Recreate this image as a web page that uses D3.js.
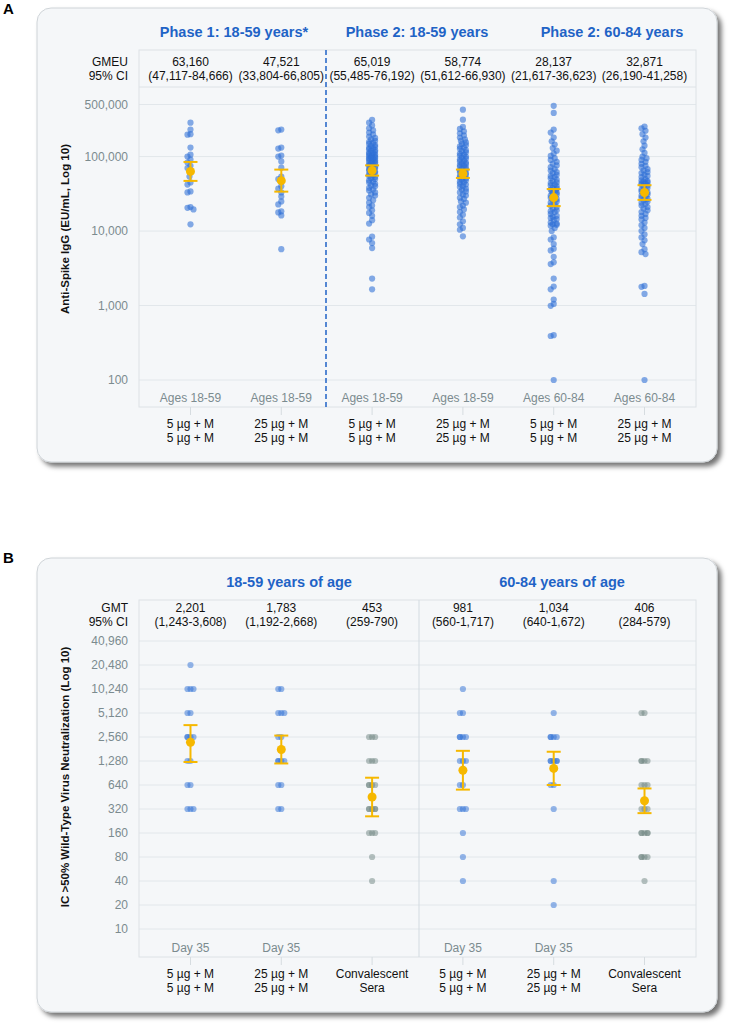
<!DOCTYPE html>
<html>
<head>
<meta charset="utf-8">
<script src="https://cdn.jsdelivr.net/npm/d3@7"></script>
<style>
body { margin: 0; background: #fff; }
text { font-family: Arial, "Liberation Sans", sans-serif; }
</style>
</head>
<body>
<div id="chart"></div>
<script>
// ---------- data: panel A ----------
var catLinesA = [["5 µg + M", "5 µg + M"], ["25 µg + M", "25 µg + M"], ["5 µg + M", "5 µg + M"],
                 ["25 µg + M", "25 µg + M"], ["5 µg + M", "5 µg + M"], ["25 µg + M", "25 µg + M"]];
var agesA = ["Ages 18-59", "Ages 18-59", "Ages 18-59", "Ages 18-59", "Ages 60-84", "Ages 60-84"];
var phaseTitles = ["Phase 1: 18-59 years*", "Phase 2: 18-59 years", "Phase 2: 60-84 years"];
var gmeuText = ["63,160", "47,521", "65,019", "58,774", "28,137", "32,871"];
var ciTextA = ["(47,117-84,666)", "(33,804-66,805)", "(55,485-76,192)", "(51,612-66,930)", "(21,617-36,623)", "(26,190-41,258)"];
var gmeu = [63160, 47521, 65019, 58774, 28137, 32871];
var gmeuLo = [47117, 33804, 55485, 51612, 21617, 26190];
var gmeuHi = [84666, 66805, 76192, 66930, 36623, 41258];
var ticksA = [100, 1000, 10000, 100000, 500000];

// individual results, thousands EU/mL
var dotsA1 = [285, 230, 200, 197, 132, 106, 100, 91, 83, 75, 70, 61, 54, 45, 42, 34, 33, 21, 20.5, 19.5, 12.3];
var dotsA2 = [230, 225, 132, 128, 103, 100, 86, 71, 54, 50, 46, 40, 37, 33, 29, 25, 22.8, 18.4, 17.8, 16.2, 5.7];
var dotsA3 = [310, 285, 262, 240, 225, 210, 198, 186, 178, 170, 163, 158, 152, 148, 143, 139, 135, 131, 128, 125,
              122, 119, 116, 113, 111, 108, 106, 104, 102, 100, 98, 96, 95, 93, 91, 89, 87, 85, 84, 82,
              80, 78, 77, 75, 73, 71, 70, 68, 66, 65, 63, 61, 60, 58, 56, 55, 53, 51, 50, 48,
              46, 45, 43, 41, 40, 38, 36, 35, 33, 31, 30, 28, 26, 24, 22, 21, 19, 17.5, 16, 14,
              12.6, 8.4, 7.7, 6.9, 5.9, 2.3, 1.65];
var dotsA4 = [426, 313, 250, 235, 218, 205, 192, 180, 170, 162, 155, 148, 142, 137, 132, 127, 122, 118, 114, 110,
              106, 103, 100, 97, 94, 91, 88, 86, 83, 81, 79, 77, 75, 73, 71, 69, 67, 65, 63, 62,
              60, 58, 57, 55, 54, 52, 51, 49, 48, 46, 45, 43, 42, 40, 39, 37, 36, 34, 33, 31,
              30, 28, 27, 25, 24, 22, 21, 19.5, 18, 16.5, 15.2, 13.5, 12.3, 11, 10.4, 8.5];
var dotsA5 = [480, 385, 230, 210, 180, 160, 145, 130, 120, 110, 102, 95, 90, 85, 80, 76, 72, 68, 65, 62,
              60, 57, 55, 53, 51, 49, 47, 45, 44, 42, 41, 40, 38, 37, 36, 35, 34, 33, 32, 31,
              30, 29, 28, 27, 26, 25, 24, 23, 22, 21, 20, 19, 18.5, 18, 17, 16, 15.5, 15, 14.5, 14,
              13, 12.6, 12.3, 12.1, 11.8, 11, 10, 8.2, 7.7, 6.7, 5.8, 5.5, 4.5, 3.8, 3.6, 2.3, 1.8, 1.65,
              1.2, 1.05, 0.99, 0.40, 0.39, 0.10];
var dotsA6 = [253, 240, 222, 200, 180, 160, 140, 125, 112, 100, 95, 90, 85, 80, 75, 72, 68, 65, 62, 60,
              57, 55, 53, 50, 48, 47, 46, 45, 44, 43, 42, 41, 40, 38, 36, 35, 34, 33, 32, 31,
              30, 29, 28, 27, 26, 25, 24, 23, 22, 21, 20, 19, 18, 17, 16, 15, 14.3, 13, 12, 11,
              10, 9, 8.2, 7.5, 6.7, 5.7, 5.2, 4.9, 1.83, 1.78, 1.43, 0.10];

// ---------- data: panel B ----------
var catLinesB = [["5 µg + M", "5 µg + M"], ["25 µg + M", "25 µg + M"], ["Convalescent", "Sera"],
                 ["5 µg + M", "5 µg + M"], ["25 µg + M", "25 µg + M"], ["Convalescent", "Sera"]];
var dayB = ["Day 35", "Day 35", "", "Day 35", "Day 35", ""];
var ageTitles = ["18-59 years of age", "60-84 years of age"];
var gmtText = ["2,201", "1,783", "453", "981", "1,034", "406"];
var ciTextB = ["(1,243-3,608)", "(1,192-2,668)", "(259-790)", "(560-1,717)", "(640-1,672)", "(284-579)"];
var gmt = [2201, 1783, 453, 981, 1034, 406];
var gmtLo = [1243, 1192, 259, 560, 640, 284];
var gmtHi = [3608, 2668, 790, 1717, 1672, 579];
var isSera = [false, false, true, false, false, true];
var ticksB = [10, 20, 40, 80, 160, 320, 640, 1280, 2560, 5120, 10240, 20480, 40960];

var dotsB1 = [20480, 10240, 10240, 10240, 5120, 5120, 2560, 2560, 2560, 2560, 1280, 1280, 640, 640, 320, 320, 320];
var dotsB2 = [10240, 10240, 5120, 5120, 5120, 2560, 2560, 1280, 1280, 1280, 1280, 640, 640, 320, 320];
var dotsB3 = [2560, 2560, 2560, 1280, 1280, 1280, 640, 640, 640, 640, 320, 320, 320, 320, 320, 160, 160, 160, 80, 40];
var dotsB4 = [10240, 5120, 5120, 2560, 2560, 2560, 2560, 1280, 1280, 1280, 640, 640, 320, 320, 320, 160, 80, 40];
var dotsB5 = [5120, 2560, 2560, 2560, 2560, 1280, 1280, 1280, 1280, 1280, 640, 640, 320, 40, 20];
var dotsB6 = [5120, 5120, 1280, 1280, 1280, 1280, 640, 640, 640, 320, 320, 320, 160, 160, 160, 160, 160, 80, 80, 80, 80, 40];

var W = 735, H = 1029;
var blue = "#1f63c6", gold = "#f6b800", greyText = "#7b8b8f", grid = "#e2e7eb";

var svg = d3.select("#chart").append("svg")
  .attr("width", W).attr("height", H);

var defs = svg.append("defs");
var f = defs.append("filter").attr("id", "shadow")
  .attr("x", "-5%").attr("y", "-5%").attr("width", "115%").attr("height", "115%");
f.append("feDropShadow").attr("dx", 4).attr("dy", 4).attr("stdDeviation", 2.5)
  .attr("flood-color", "#000").attr("flood-opacity", 0.55);

// shared x scale
var x = d3.scalePoint().domain(d3.range(6)).range([139, 696]).padding(0.567);

// simple deterministic swarm: horizontal offsets so dots overlap less
function swarm(vals, yf, minDist, maxOff, step) {
  var placed = [];
  var items = vals.map(function (v) { return { v: v, y: yf(v) }; })
    .sort(function (a, b) { return a.y - b.y; });
  var cands = [0];
  for (var k = step; k <= maxOff + 0.01; k += step) { cands.push(-k); cands.push(k); }
  items.forEach(function (d) {
    var best = 0, bestScore = Infinity;
    cands.forEach(function (c) {
      var s = Math.abs(c) * 0.02;
      placed.forEach(function (p) {
        var dx = p.dx - c, dy = p.y - d.y;
        var dist = Math.sqrt(dx * dx + dy * dy);
        if (dist < minDist) s += minDist - dist;
      });
      if (s < bestScore) { bestScore = s; best = c; }
    });
    d.dx = best;
    placed.push(d);
  });
  return items;
}

function card(top, bottom) {
  svg.append("rect")
    .attr("x", 37).attr("y", top).attr("width", 680).attr("height", bottom - top)
    .attr("rx", 14).attr("ry", 14)
    .attr("fill", "#f5f7f9").attr("stroke", "#cfd4d8").attr("stroke-width", 1)
    .attr("filter", "url(#shadow)");
}

function errorBars(g, y, mid, lo, hi) {
  var eb = g.append("g").selectAll("g").data(mid).enter().append("g");
  eb.append("line")
    .attr("x1", function (d, i) { return x(i); }).attr("x2", function (d, i) { return x(i); })
    .attr("y1", function (d, i) { return y(lo[i]); }).attr("y2", function (d, i) { return y(hi[i]); })
    .attr("stroke", gold).attr("stroke-width", 2);
  [lo, hi].forEach(function (arr) {
    eb.append("line")
      .attr("x1", function (d, i) { return x(i) - 7; }).attr("x2", function (d, i) { return x(i) + 7; })
      .attr("y1", function (d, i) { return y(arr[i]); }).attr("y2", function (d, i) { return y(arr[i]); })
      .attr("stroke", gold).attr("stroke-width", 2);
  });
  eb.append("circle")
    .attr("cx", function (d, i) { return x(i); })
    .attr("cy", function (d) { return y(d); })
    .attr("r", 4.5).attr("fill", gold);
}

function catLabels(g, lines, yTop) {
  g.selectAll(".tk").data(lines).enter().append("line")
    .attr("x1", function (d, i) { return x(i); }).attr("x2", function (d, i) { return x(i); })
    .attr("y1", yTop).attr("y2", yTop + 8).attr("stroke", "#d6dce0");
  var t = g.selectAll(".cat").data(lines).enter().append("text")
    .attr("text-anchor", "middle").attr("font-size", 12).attr("fill", "#111");
  t.append("tspan").attr("x", function (d, i) { return x(i); }).attr("y", yTop + 21)
    .text(function (d) { return d[0]; });
  t.append("tspan").attr("x", function (d, i) { return x(i); }).attr("y", yTop + 35)
    .text(function (d) { return d[1]; });
}

function headerRow(g, label1, label2, vals, cis, yTop) {
  g.append("text").attr("x", 128).attr("y", yTop + 16).attr("text-anchor", "end")
    .attr("font-size", 12).attr("fill", "#111").text(label1);
  g.append("text").attr("x", 128).attr("y", yTop + 30).attr("text-anchor", "end")
    .attr("font-size", 12).attr("fill", "#111").text(label2);
  g.selectAll(".hv").data(vals).enter().append("text")
    .attr("x", function (d, i) { return x(i); }).attr("y", yTop + 16)
    .attr("text-anchor", "middle").attr("font-size", 12).attr("fill", "#111")
    .text(function (d) { return d; });
  g.selectAll(".hc").data(cis).enter().append("text")
    .attr("x", function (d, i) { return x(i); }).attr("y", yTop + 30)
    .attr("text-anchor", "middle").attr("font-size", 12).attr("fill", "#111")
    .text(function (d) { return d; });
}

// =============== PANEL A ===============
card(8, 462);
svg.append("text").attr("x", 3).attr("y", 14).attr("font-size", 15).attr("font-weight", "bold").text("A");

var gA = svg.append("g");
var yA = d3.scaleLog().domain([100, 500000]).range([380, 104.5]);

// gridlines
gA.selectAll(".grid").data(ticksA).enter().append("line")
  .attr("x1", 139).attr("x2", 696)
  .attr("y1", function (d) { return yA(d); }).attr("y2", function (d) { return yA(d); })
  .attr("stroke", grid);
// frame + table
gA.append("rect").attr("x", 139).attr("y", 50).attr("width", 557).attr("height", 357)
  .attr("fill", "none").attr("stroke", "#dde2e6");
gA.append("line").attr("x1", 139).attr("x2", 696).attr("y1", 87).attr("y2", 87).attr("stroke", "#dde2e6");

// dashed phase divider
gA.append("line").attr("x1", 326).attr("x2", 326).attr("y1", 50).attr("y2", 407)
  .attr("stroke", blue).attr("stroke-width", 1.5).attr("stroke-dasharray", "5,3");

// y axis tick labels
var axA = d3.axisLeft(yA).tickValues(ticksA).tickFormat(d3.format(",")).tickSize(0).tickPadding(0);
gA.append("g").attr("transform", "translate(128,0)").call(axA)
  .call(function (g) { g.select(".domain").remove(); })
  .selectAll("text").attr("font-size", 12).attr("fill", greyText)
  .attr("font-family", "Arial, 'Liberation Sans', sans-serif");

gA.append("text")
  .attr("transform", "translate(69,229) rotate(-90)")
  .attr("text-anchor", "middle").attr("font-size", 11.5).attr("font-weight", "bold").attr("fill", "#111")
  .text("Anti-Spike IgG (EU/mL, Log 10)");

// dots
var colsA = [dotsA1, dotsA2, dotsA3, dotsA4, dotsA5, dotsA6];
colsA.forEach(function (arr, ci) {
  var pts = swarm(arr.map(function (v) { return v * 1000; }), yA, 4, 3, 1);
  gA.append("g").selectAll("circle").data(pts).enter().append("circle")
    .attr("cx", function (d) { return x(ci) + d.dx; })
    .attr("cy", function (d) { return d.y; })
    .attr("r", 3.1)
    .attr("fill", "#2d6fd6").attr("fill-opacity", 0.58);
});

errorBars(gA, yA, gmeu, gmeuLo, gmeuHi);

// titles
var phaseX = [234, 417, 612];
gA.selectAll(".ph").data(phaseTitles).enter().append("text")
  .attr("x", function (d, i) { return phaseX[i]; }).attr("y", 37)
  .attr("text-anchor", "middle").attr("font-size", 14.5).attr("font-weight", "bold").attr("fill", blue)
  .text(function (d) { return d; });

headerRow(gA, "GMEU", "95% CI", gmeuText, ciTextA, 50);

gA.selectAll(".ages").data(agesA).enter().append("text")
  .attr("x", function (d, i) { return x(i); }).attr("y", 402)
  .attr("text-anchor", "middle").attr("font-size", 12).attr("fill", greyText)
  .text(function (d) { return d; });

catLabels(gA, catLinesA, 407);

// =============== PANEL B ===============
card(558, 1012);
svg.append("text").attr("x", 3).attr("y", 563).attr("font-size", 15).attr("font-weight", "bold").text("B");

var gB = svg.append("g");
var yB = d3.scaleLog().base(2).domain([10, 40960]).range([929, 641]);

gB.selectAll(".grid").data(ticksB).enter().append("line")
  .attr("x1", 139).attr("x2", 696)
  .attr("y1", function (d) { return yB(d); }).attr("y2", function (d) { return yB(d); })
  .attr("stroke", grid);
gB.append("rect").attr("x", 139).attr("y", 600).attr("width", 557).attr("height", 357)
  .attr("fill", "none").attr("stroke", "#dde2e6");
gB.append("line").attr("x1", 419).attr("x2", 419).attr("y1", 600).attr("y2", 957)
  .attr("stroke", "#d3dbe1");

var axB = d3.axisLeft(yB).tickValues(ticksB).tickFormat(d3.format(",")).tickSize(0).tickPadding(0);
gB.append("g").attr("transform", "translate(128,0)").call(axB)
  .call(function (g) { g.select(".domain").remove(); })
  .selectAll("text").attr("font-size", 12).attr("fill", greyText)
  .attr("font-family", "Arial, 'Liberation Sans', sans-serif");

gB.append("text")
  .attr("transform", "translate(69,777) rotate(-90)")
  .attr("text-anchor", "middle").attr("font-size", 11.5).attr("font-weight", "bold").attr("fill", "#111")
  .text("IC >50% Wild-Type Virus Neutralization (Log 10)");

var colsB = [dotsB1, dotsB2, dotsB3, dotsB4, dotsB5, dotsB6];
colsB.forEach(function (arr, ci) {
  var pts = swarm(arr, yB, 5, 3, 1.5);
  gB.append("g").selectAll("circle").data(pts).enter().append("circle")
    .attr("cx", function (d) { return x(ci) + d.dx; })
    .attr("cy", function (d) { return d.y; })
    .attr("r", 3.1)
    .attr("fill", isSera[ci] ? "#6f8581" : "#2d6fd6").attr("fill-opacity", 0.5);
});

errorBars(gB, yB, gmt, gmtLo, gmtHi);

var ageX = [289, 562];
gB.selectAll(".at").data(ageTitles).enter().append("text")
  .attr("x", function (d, i) { return ageX[i]; }).attr("y", 587)
  .attr("text-anchor", "middle").attr("font-size", 14.5).attr("font-weight", "bold").attr("fill", blue)
  .text(function (d) { return d; });

headerRow(gB, "GMT", "95% CI", gmtText, ciTextB, 596);

gB.selectAll(".day").data(dayB).enter().append("text")
  .attr("x", function (d, i) { return x(i); }).attr("y", 952)
  .attr("text-anchor", "middle").attr("font-size", 12).attr("fill", greyText)
  .text(function (d) { return d; });

catLabels(gB, catLinesB, 957);
</script>
</body>
</html>
